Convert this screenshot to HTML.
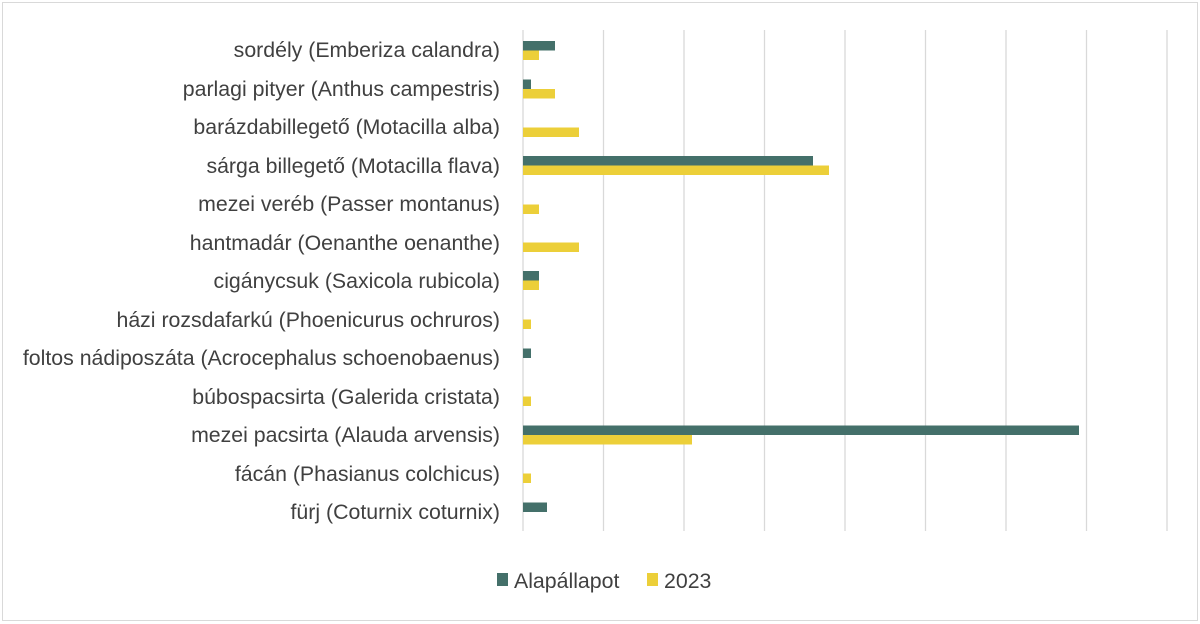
<!DOCTYPE html>
<html><head><meta charset="utf-8"><style>
html,body{margin:0;padding:0;background:#fff;}
svg{display:block;font-family:"Liberation Sans",sans-serif;}
</style></head><body>
<svg width="1200" height="624" viewBox="0 0 1200 624">
<rect x="2.5" y="2.5" width="1195" height="618" fill="#fff" stroke="#d9d9d9"/>
<g stroke="#d9d9d9" stroke-width="1.3">
<line x1="523" y1="30" x2="523" y2="531"/>
<line x1="603.5" y1="30" x2="603.5" y2="531"/>
<line x1="684" y1="30" x2="684" y2="531"/>
<line x1="764.5" y1="30" x2="764.5" y2="531"/>
<line x1="845" y1="30" x2="845" y2="531"/>
<line x1="925.5" y1="30" x2="925.5" y2="531"/>
<line x1="1006" y1="30" x2="1006" y2="531"/>
<line x1="1086.5" y1="30" x2="1086.5" y2="531"/>
<line x1="1167" y1="30" x2="1167" y2="531"/>
</g>
<g font-size="21.3" fill="#404040" text-anchor="end">
<text x="500" y="57">sordély (Emberiza calandra)</text>
<text x="500" y="96">parlagi pityer (Anthus campestris)</text>
<text x="500" y="134">barázdabillegető (Motacilla alba)</text>
<text x="500" y="173">sárga billegető (Motacilla flava)</text>
<text x="500" y="211">mezei veréb (Passer montanus)</text>
<text x="500" y="250">hantmadár (Oenanthe oenanthe)</text>
<text x="500" y="288">cigánycsuk (Saxicola rubicola)</text>
<text x="500" y="327">házi rozsdafarkú (Phoenicurus ochruros)</text>
<text x="500" y="365">foltos nádiposzáta (Acrocephalus schoenobaenus)</text>
<text x="500" y="404">búbospacsirta (Galerida cristata)</text>
<text x="500" y="442">mezei pacsirta (Alauda arvensis)</text>
<text x="500" y="481">fácán (Phasianus colchicus)</text>
<text x="500" y="519">fürj (Coturnix coturnix)</text>
</g>
<g fill="#44706a">
<rect x="523" y="41" width="32" height="9.5"/>
<rect x="523" y="79.5" width="8" height="9.5"/>
<rect x="523" y="156" width="290" height="9.5"/>
<rect x="523" y="271" width="16" height="9.5"/>
<rect x="523" y="348.5" width="8" height="9.5"/>
<rect x="523" y="425.5" width="556" height="9.5"/>
<rect x="523" y="502.5" width="24" height="9.5"/>
</g>
<g fill="#eccf39">
<rect x="523" y="50.5" width="16" height="9.5"/>
<rect x="523" y="89" width="32" height="9.5"/>
<rect x="523" y="127.5" width="56" height="9.5"/>
<rect x="523" y="165.5" width="306" height="9.5"/>
<rect x="523" y="204.5" width="16" height="9.5"/>
<rect x="523" y="242.5" width="56" height="9.5"/>
<rect x="523" y="280.5" width="16" height="9.5"/>
<rect x="523" y="319.5" width="8" height="9.5"/>
<rect x="523" y="396.5" width="8" height="9.5"/>
<rect x="523" y="435" width="169" height="9.5"/>
<rect x="523" y="473.5" width="8" height="9.5"/>
</g>
<rect x="497" y="573" width="11" height="13" fill="#44706a"/>
<text x="514" y="588" font-size="21.3" fill="#404040">Alapállapot</text>
<rect x="647" y="573" width="11" height="13" fill="#eccf39"/>
<text x="664" y="588" font-size="21.3" fill="#404040">2023</text>
</svg>
</body></html>
